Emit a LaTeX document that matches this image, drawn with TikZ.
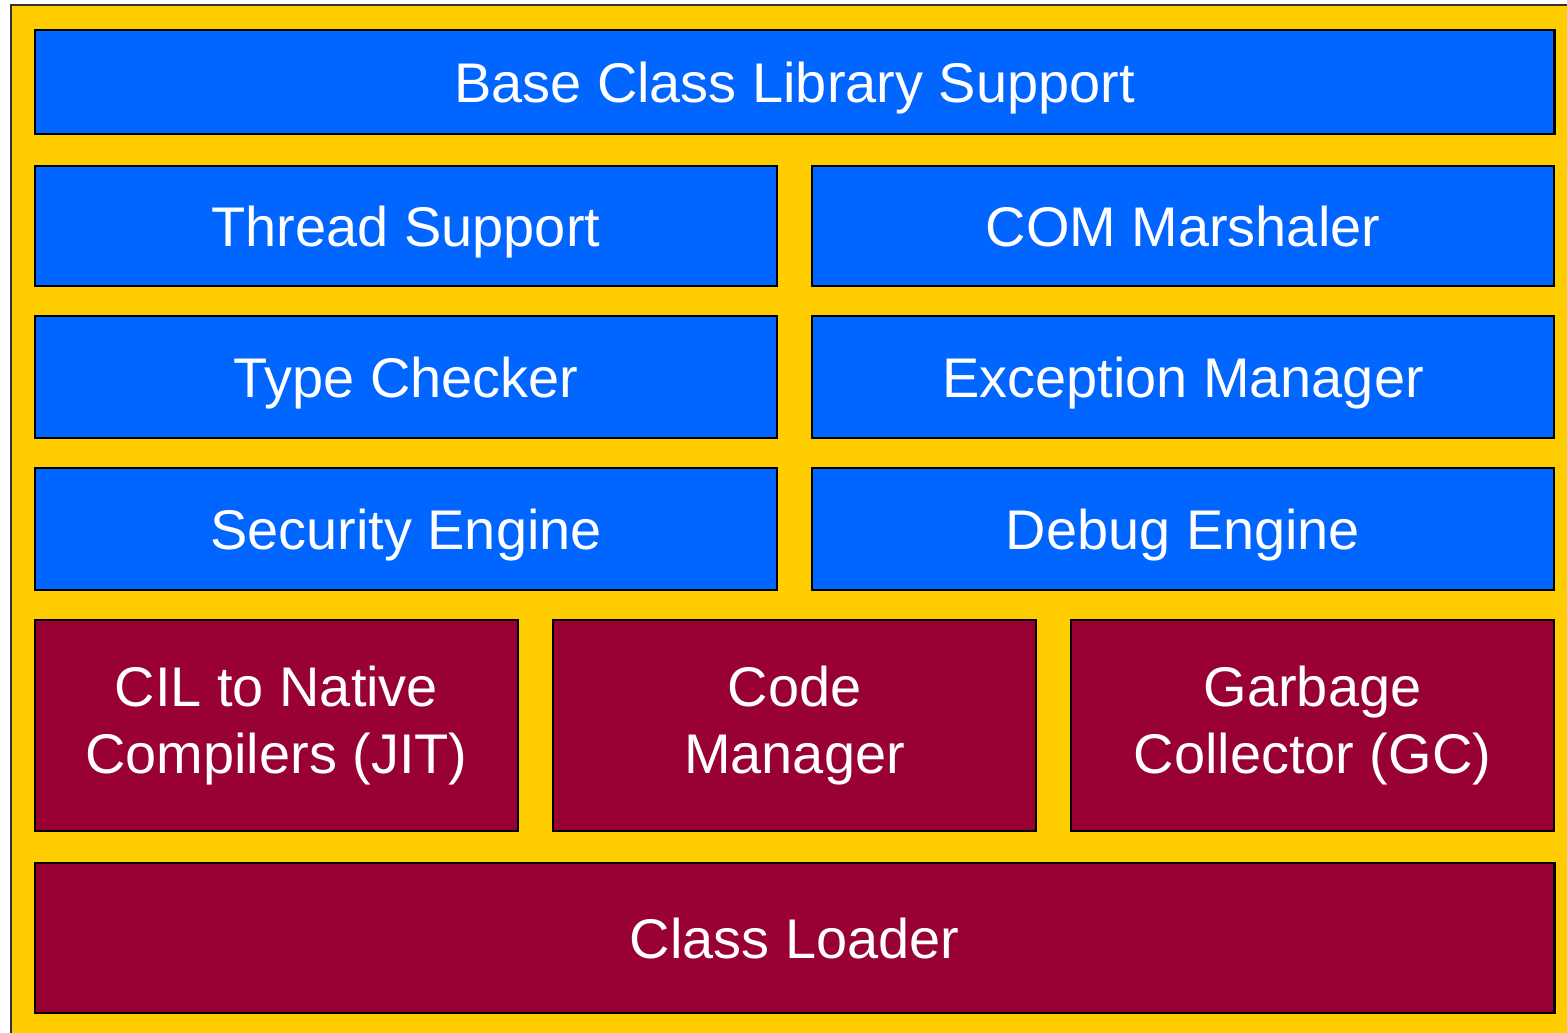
\documentclass[tikz,border=0pt]{standalone}
\usepackage{fontspec}
\setmainfont{Liberation Sans}
\usepackage{xcolor}
\definecolor{clryellow}{HTML}{FFCC00}
\definecolor{clrblue}{HTML}{0066FF}
\definecolor{clrred}{HTML}{990033}
\begin{document}
\begin{tikzpicture}[x=0.01cm,y=-0.01cm,%
% common options for blocks:
block/.style = {draw=black, line width=0.6pt, text=white, align=center,
            inner sep=0, font=\fontsize{15.9}{19.3}\selectfont},
% one line of text, caps centred in the block:
oneline/.style = {text height=11.4pt, text depth=0pt},
% upper (blue) and lower (red) layers:
upper/.style = {block, oneline, fill=clrblue},
lower/.style = {block, fill=clrred},
wide/.style = {minimum width=15.19cm},
half/.style = {minimum width=7.42cm},
third/.style = {minimum width=4.83cm}]
\useasboundingbox (0,0) rectangle (1567,1032);
\clip (0,0) rectangle (1567,1032);
\draw[fill=clryellow, draw=black!80, line width=0.6pt] (11,5) rectangle (1620,1080);

\node[upper,wide,minimum height=1.04cm] (BCL) at (794.5,82) {Base Class Library Support};

\node[upper,half,minimum height=1.20cm] (TS) at (406,226) {Thread Support};
\node[upper,half,minimum height=1.20cm] (CM) at (1183,226) {COM Marshaler};

\node[upper,half,minimum height=1.22cm] (TC) at (406,377) {Type Checker};
\node[upper,half,minimum height=1.22cm] (EM) at (1183,377) {Exception Manager};

\node[upper,half,minimum height=1.22cm] (SE) at (406,529) {Security Engine};
\node[upper,half,minimum height=1.22cm] (DE) at (1183,529) {Debug Engine};

\node[lower,third,minimum height=2.11cm] (JIT) at (276.5,725.5) {CIL to Native\\Compilers (JIT)};
\node[lower,third,minimum height=2.11cm] (CodeM) at (794.5,725.5) {Code\\Manager};
\node[lower,third,minimum height=2.11cm] (GC) at (1312.5,725.5) {Garbage\\Collector (GC)};

\node[lower,oneline,wide,minimum height=1.50cm] (CL) at (794.5,938) {Class Loader};
\end{tikzpicture}
\end{document}
